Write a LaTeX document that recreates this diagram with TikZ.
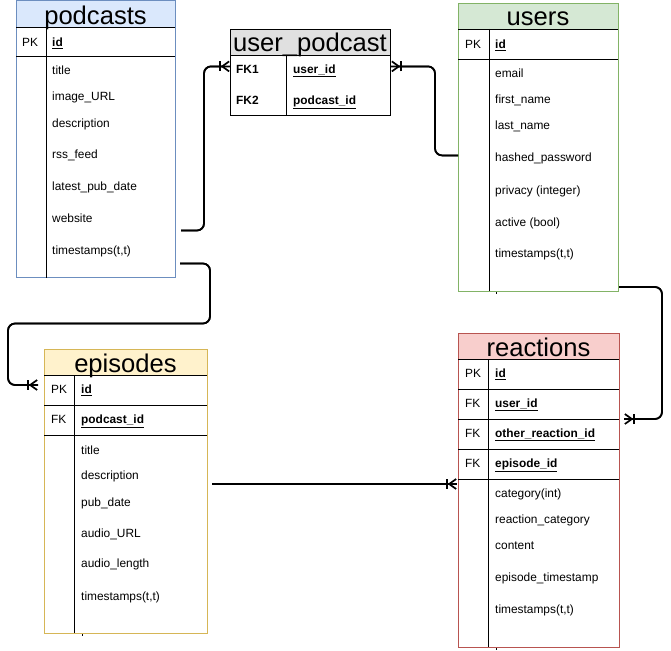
\documentclass[tikz,border=0pt]{standalone}
\usepackage{fontspec}
\setmainfont{Liberation Sans}
\usetikzlibrary{arrows.meta}
\definecolor{podfill}{HTML}{DAE8FC}
\definecolor{podline}{HTML}{6C8EBF}
\definecolor{userfill}{HTML}{D5E8D4}
\definecolor{userline}{HTML}{82B366}
\definecolor{epfill}{HTML}{FFF2CC}
\definecolor{epline}{HTML}{D6B656}
\definecolor{reactfill}{HTML}{F8CECC}
\definecolor{reactline}{HTML}{B85450}
\definecolor{linkfill}{HTML}{E0E0E0}
\newcommand{\keyfield}[1]{\textbf{\underline{#1}}}

\begin{document}
\begin{tikzpicture}[x=1pt, y=-1pt,
  hdbox/.style={anchor=north west, inner sep=0pt, outer sep=0pt},
  tbl/.style={draw, line width=0.8pt, anchor=north west, inner sep=0pt, outer sep=0pt},
  hdr/.style={anchor=base, inner sep=0pt, font=\fontsize{25.6}{30}\selectfont},
  fld/.style={anchor=base west, inner sep=0pt, font=\fontsize{11.9}{14}\selectfont},
  rule/.style={line width=0.8pt},
  tick/.style={line width=0.6pt},
  link/.style={line width=1.7pt, rounded corners=7pt},
  crow/.style={link, postaction={draw, -{Bar[width=10pt]Straight Barb[reversed,length=7pt,width=10pt]}}},
]
  \useasboundingbox (0,0) rectangle (671,650);

  % podcasts
  \node[hdbox, fill=podfill, minimum width=159pt, minimum height=27pt] (podcasts-hd) at (16,0.5) {};
  \node[tbl, draw=podline, minimum width=159pt, minimum height=277pt] (podcasts) at (16,0.5) {};
  \node[hdr] at ([yshift=3pt]podcasts-hd.south) {podcasts};
  \draw[rule] (podcasts-hd.south west) -- (podcasts-hd.south east);
  \draw[rule] (16,56) -- (175,56);
  \draw[rule] (46,27.5) -- (46,277.5);
  \node[fld] at (22,46.5) {PK};
  \node[fld] (pod-id) at (52,46.5) {\keyfield{id}};
  \node[fld] at (52,75) {title};
  \node[fld] at (52,101) {image\_URL};
  \node[fld] at (52,127) {description};
  \node[fld] at (52,158.5) {rss\_feed};
  \node[fld] at (52,190.5) {latest\_pub\_date};
  \node[fld] (pod-web) at (52,222.5) {website};
  \node[fld] at (52,254) {timestamps(t,t)};

  % user_podcast
  \node[hdbox, fill=linkfill, minimum width=160pt, minimum height=26pt] (userpodcast-hd) at (230,29) {};
  \node[tbl, minimum width=160pt, minimum height=86pt] (userpodcast) at (230,29) {};
  \node[hdr] at ([yshift=3pt]userpodcast-hd.south) {user\_podcast};
  \draw[rule] (userpodcast-hd.south west) -- (userpodcast-hd.south east);
  \draw[rule] (286,55) -- (286,115);
  \node[fld] (fk1) at (236,73.5) {\textbf{FK1}};
  \node[fld] (fk2) at (236,104) {\textbf{FK2}};
  \node[fld] at (293,73.5) {\keyfield{user\_id}};
  \node[fld] at (293,104) {\keyfield{podcast\_id}};

  % users
  \node[hdbox, fill=userfill, minimum width=160pt, minimum height=26pt] (users-hd) at (458,3) {};
  \node[tbl, draw=userline, minimum width=160pt, minimum height=288pt] (users) at (458,3) {};
  \node[hdr] at ([yshift=3pt]users-hd.south) {users};
  \draw[rule] (users-hd.south west) -- (users-hd.south east);
  \draw[rule] (458,59) -- (618,59);
  \draw[rule] (489,29) -- (489,291);
  \node[fld] at (465,48.5) {PK};
  \node[fld] at (495,48.5) {\keyfield{id}};
  \node[fld] at (495,77.5) {email};
  \node[fld] at (495,103.5) {first\_name};
  \node[fld] at (495,129.5) {last\_name};
  \node[fld] (users-hash) at (495,161.5) {hashed\_password};
  \node[fld] at (495,194) {privacy (integer)};
  \node[fld] at (495,226) {active (bool)};
  \node[fld] at (495,257.5) {timestamps(t,t)};
  \draw[tick] (496,292) -- (496,294);

  % episodes
  \node[hdbox, fill=epfill, minimum width=163pt, minimum height=26pt] (episodes-hd) at (44,349) {};
  \node[tbl, draw=epline, minimum width=163pt, minimum height=284pt] (episodes) at (44,349) {};
  \node[hdr] at ([yshift=3pt]episodes-hd.south) {episodes};
  \draw[rule] (episodes-hd.south west) -- (episodes-hd.south east);
  \draw[rule] (44,405) -- (207,405);
  \draw[rule] (44,435) -- (207,435);
  \draw[rule] (74,375) -- (74,633);
  \node[fld] at (51,393.5) {PK};
  \node[fld] at (81,393.5) {\keyfield{id}};
  \node[fld] at (51,423.5) {FK};
  \node[fld] at (81,423.5) {\keyfield{podcast\_id}};
  \node[fld] at (81,454) {title};
  \node[fld] at (81,479.5) {description};
  \node[fld] at (81,506) {pub\_date};
  \node[fld] at (81,537.5) {audio\_URL};
  \node[fld] at (81,567.5) {audio\_length};
  \node[fld] at (81,600) {timestamps(t,t)};
  \draw[tick] (82,634) -- (82,636);

  % reactions
  \node[hdbox, fill=reactfill, minimum width=161pt, minimum height=26pt] (reactions-hd) at (458,333) {};
  \node[tbl, draw=reactline, minimum width=161pt, minimum height=314pt] (reactions) at (458,333) {};
  \node[hdr] at ([yshift=3pt]reactions-hd.south) {reactions};
  \draw[rule] (reactions-hd.south west) -- (reactions-hd.south east);
  \draw[rule] (458,389) -- (619,389);
  \draw[rule] (458,419) -- (619,419);
  \draw[rule] (458,449) -- (619,449);
  \draw[rule] (458,479) -- (619,479);
  \draw[rule] (488,359) -- (488,647);
  \node[fld] at (465,377.5) {PK};
  \node[fld] at (495,377.5) {\keyfield{id}};
  \node[fld] at (465,407.5) {FK};
  \node[fld] at (495,407.5) {\keyfield{user\_id}};
  \node[fld] at (465,437.5) {FK};
  \node[fld] at (495,437.5) {\keyfield{other\_reaction\_id}};
  \node[fld] at (465,467.5) {FK};
  \node[fld] at (495,467.5) {\keyfield{episode\_id}};
  \node[fld] at (495,497.5) {category(int)};
  \node[fld] at (495,523.5) {reaction\_category};
  \node[fld] at (495,549.5) {content};
  \node[fld] at (495,581.5) {episode\_timestamp};
  \node[fld] at (495,613.5) {timestamps(t,t)};
  \draw[tick] (496,648) -- (496,650);

  % links
  \draw[crow] ([xshift=6pt,yshift=47pt]podcasts.south east) -- ++(23,0)
    |- ([yshift=3pt]userpodcast.west |- fk1);
  \draw[crow] ([yshift=3pt]users.west |- users-hash) -- ++(-23,0)
    |- ([xshift=1pt,yshift=3pt]userpodcast.east |- fk1);
  \draw[crow] ([xshift=5pt,yshift=14pt]podcasts.south east) -- ++(30,0) -- ++(0,60)
    -| (8,385) -- ([xshift=-6pt,yshift=-36pt]episodes.north west);
  \draw[crow] ([xshift=1pt,yshift=4pt]users.south east) -- ++(43,0)
    |- ([xshift=5pt,yshift=-86pt]reactions.north east);
  \draw[crow] ([xshift=5pt,yshift=149pt]episodes.south east)
    -- ([xshift=-1pt,yshift=149pt]episodes.south east -| reactions.west);
\end{tikzpicture}
\end{document}
